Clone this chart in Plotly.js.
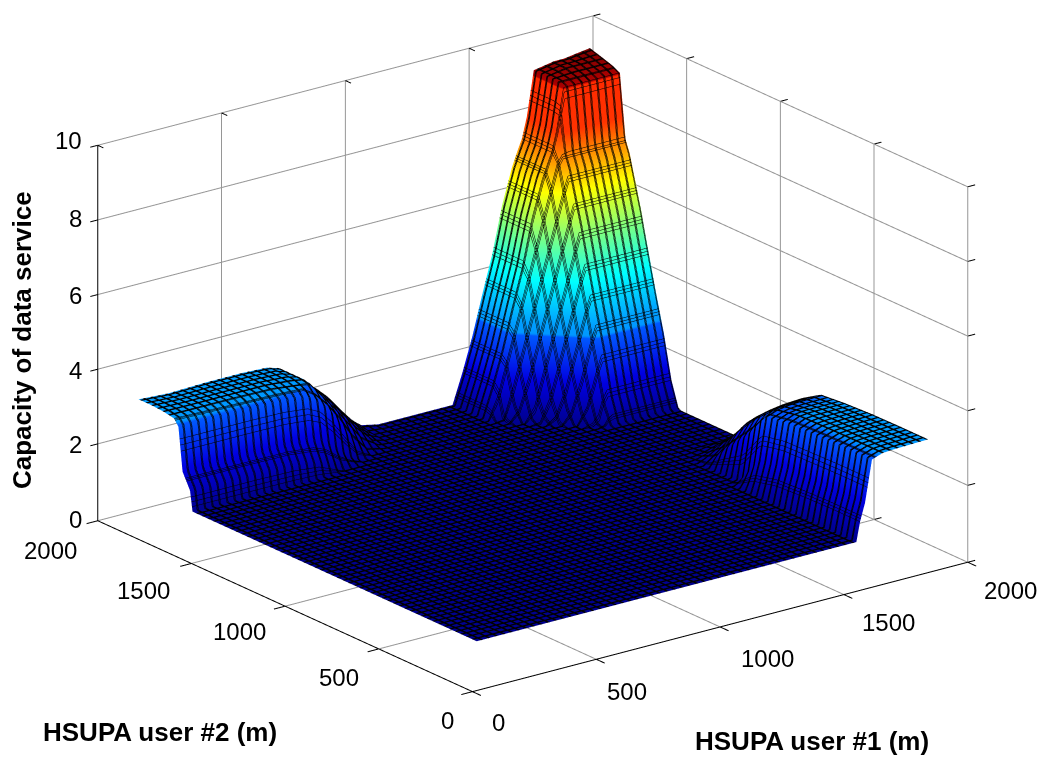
<!DOCTYPE html>
<html>
<head>
<meta charset="utf-8">
<script src="https://cdn.plot.ly/plotly-3.0.1.min.js"></script>
<style>html,body{margin:0;padding:0;background:#fff}#chart{width:1049px;height:762px}</style>
</head>
<body>
<div id="chart"></div>
<script>
// metres
const user1Distance = [282,400,550,700,800,850,900,950,1000,1060,1130,1180,1250,1400,1550,1590,1630,1670,1710,1750,1790,1815,1830,1850,1878,1920,1960,2000,2050,2105];
const user2Distance = [350,500,650,800,920,1020,1130,1200,1290,1362,1500,1680,1720,1760,1800,1840,1867,1880,1920,1942,1965,1995,2030,2090,2155];
// capacity of data service; one row per user2Distance, one column per user1Distance
const capacity = [
[0,0,0,0,0,0,0,0,0,0,0,0,0,0,0,0,0,0,0,0,0,0,.52,.99,2.1,2.2,2.22,2.23,2.24,2.25],
[0,0,0,0,0,0,0,0,0,0,0,0,0,0,0,0,0,0,0,0,0,0,.52,.99,2.1,2.2,2.22,2.23,2.24,2.25],
[0,0,0,0,0,0,0,0,0,0,0,0,0,0,0,0,0,0,0,0,0,0,.5,.97,2.08,2.19,2.21,2.22,2.23,2.24],
[0,0,0,0,0,0,0,0,0,0,0,0,0,0,0,0,0,0,0,0,0,0,.45,.95,2.05,2.17,2.2,2.2,2.2,2.2],
[0,0,0,0,0,0,0,0,0,0,0,0,0,0,0,0,0,0,0,0,0,0,.3,.8,1.95,2.05,2.1,2.12,2.13,2.14],
[0,0,0,0,0,0,0,0,0,0,0,0,0,0,0,0,0,0,0,0,0,0,0,.05,1.2,1.6,1.72,1.76,1.8,1.82],
[0,0,0,0,0,0,0,0,0,0,0,0,0,0,0,0,0,0,0,0,0,0,0,0,.6,.95,1.15,1.25,1.33,1.39],
[0,0,0,0,0,0,0,0,0,0,0,0,0,0,0,0,0,0,0,0,0,0,0,0,.15,.4,.65,.8,.95,1.02],
[0,0,0,0,0,0,0,0,0,0,0,0,0,0,0,0,0,0,0,0,0,0,0,0,0,.05,.15,.25,.4,.54],
[0,0,0,0,0,0,0,0,0,0,0,0,0,0,0,0,0,0,0,0,0,0,0,0,0,0,0,0,0,0],
[0,0,0,0,0,0,0,0,0,0,0,0,0,0,0,0,0,0,0,0,0,0,0,0,0,0,0,0,0,0],
[0,0,0,0,0,0,0,0,0,0,0,0,0,0,0,0,0,0,0,0,0,0,0,0,0,0,0,0,0,0],
[0,0,0,0,0,0,0,0,0,0,0,0,0,0,0,0,0,0,0,0,0,.12,.48,.7,.7,.7,.7,.7,.7,.7],
[0,0,0,0,0,0,0,0,0,0,0,0,0,0,0,0,0,0,0,0,.48,1.09,1.45,1.85,1.85,1.85,1.85,1.85,1.85,1.85],
[0,0,0,0,0,0,0,0,0,0,0,0,0,0,0,0,0,0,0,.48,1.45,2.06,2.42,2.8,2.8,2.8,2.8,2.8,2.8,2.8],
[0,0,0,0,0,0,0,0,0,0,0,0,0,0,0,0,0,0,.48,1.45,2.42,3.03,3.39,3.8,3.8,3.8,3.8,3.8,3.8,3.8],
[0,0,0,0,0,0,0,0,0,0,0,0,0,0,0,0,0,.17,1.14,2.1,3.07,3.68,4.04,4.5,4.5,4.5,4.5,4.5,4.5,4.5],
[.53,.53,.53,.5,.4,.2,0,0,0,0,0,0,0,0,0,0,0,.48,1.45,2.42,3.39,3.99,4.36,4.84,4.85,4.85,4.85,4.85,4.85,4.85],
[.95,.95,.95,.95,.9,.8,.5,.2,0,0,0,0,0,0,0,0,.48,1.45,2.42,3.39,4.36,4.96,5.32,5.75,5.75,5.75,5.75,5.75,5.75,5.75],
[2.1,2.1,2.1,2.08,2,1.8,1.4,.85,.3,0,0,0,0,0,0,.05,1.02,1.98,2.95,3.92,4.89,5.49,5.86,6.25,6.25,6.25,6.25,6.25,6.25,6.25],
[2.27,2.25,2.22,2.2,2.17,1.95,1.6,1.15,.6,.12,0,0,0,0,0,.6,1.57,2.54,3.51,4.48,5.45,6.05,6.41,6.6,6.6,6.6,6.6,6.6,6.6,6.6],
[2.3,2.3,2.3,2.28,2.2,2.17,1.75,1.35,.9,.35,.03,0,0,0,0,.8,1.7,2.75,3.75,5,5.95,6.4,6.65,7.2,8.3,8.3,8.3,8.3,8.3,8.3],
[2.33,2.32,2.32,2.32,2.27,2.2,1.85,1.5,1.1,.6,.1,0,0,0,0,.8,1.7,2.75,3.75,5,5.95,6.4,6.65,7.2,8.4,8.4,8.4,8.4,8.4,8.4],
[2.35,2.32,2.33,2.33,2.3,2.2,1.9,1.62,1.3,.8,.25,.02,0,0,0,.8,1.7,2.75,3.75,5,5.95,6.4,6.65,7.2,8.4,8.45,8.5,8.5,8.5,8.5],
[2.35,2.3,2.33,2.33,2.3,2.2,1.9,1.65,1.39,.95,.38,.1,0,0,0,.8,1.7,2.75,3.75,5,5.95,6.4,6.65,7.2,8.4,8.45,8.5,8.5,8.55,8.6]
];
const xTicks = [0,500,1000,1500,2000];
const yTicks = [0,500,1000,1500,2000];
const zTicks = [0,2,4,6,8,10];
const colorMax = 8.6;
const colorLevels = [0,1,2.14,2.16,2.2,2.4,3.5,5.7,7.2,8.25,8.3,8.6];
const colorValues = ['#00008f','#0000e0','#0058ff','#0080ff','#0098ff','#009cff','#00ffff','#ffff00','#ff3300','#ff2a00','#b00000','#800000'];
const facetColors = colorLevels.map((v,i)=>[v/colorMax,colorValues[i]]);

const X=2000,Y=2000,Z=10,F=-0.06;
// Surface runs past the 2000 walls; in an orthographic view the walls can slide along the
// view direction without moving on screen, which keeps them behind the surface.
const P=[118,156,-.562];
const far=p=>[p[0]+P[0],p[1]+P[1],p[2]+P[2]];
const farSeg=s=>[far(s[0]),far(s[1])];
function lines(segs){const o={x:[],y:[],z:[]};segs.forEach(s=>{o.x.push(s[0][0],s[1][0],null);o.y.push(s[0][1],s[1][1],null);o.z.push(s[0][2],s[1][2],null);});return o;}
const greySegs=[], wallTicks=[], blackSegs=[];
xTicks.forEach(t=>{greySegs.push([[t,0,F],[t,Y,F]],[[t,Y,F],[t,Y,Z]]);
  blackSegs.push([[t,0,F],[t,-45,F]]);wallTicks.push([[t,Y,Z],[t,Y-30,Z]],[[t,Y,F],[t,Y-30,F]]);});
yTicks.forEach(t=>{greySegs.push([[0,t,F],[X,t,F]],[[X,t,F],[X,t,Z]]);
  blackSegs.push([[0,t,F],[-45,t,F]]);wallTicks.push([[X,t,Z],[X+30,t,Z]],[[X,t,F],[X+30,t,F]]);});
zTicks.forEach(t=>{const h=t===0?F:t;greySegs.push([[0,Y,h],[X,Y,h]],[[X,Y,h],[X,0,h]]);
  blackSegs.push([[0,Y,h],[-30,Y,h]]);wallTicks.push([[X,0,h],[X+30,0,h]]);});
blackSegs.push([[0,0,F],[X,0,F]],[[0,0,F],[0,Y,F]],[[0,Y,F],[0,Y,Z]]);
const lineTrace=(segs,color,width)=>Object.assign({type:'scatter3d',mode:'lines',line:{color,width},hoverinfo:'skip',showlegend:false,connectgaps:false},lines(segs));

const mesh = {show:true,color:'#000000',width:2,highlight:false,size:30};
const surface = offset=>({
  type:'surface', x:user1Distance, y:user2Distance, z:capacity,
  colorscale:facetColors, cmin:0, cmax:colorMax, showscale:false, hoverinfo:'skip',
  lighting:{ambient:1,diffuse:0,specular:0,roughness:1,fresnel:0},
  contours:{x:{...mesh,start:270+offset,end:2130},y:{...mesh,start:340+offset,end:2170}}
});
const font={family:'Liberation Sans, Arial, sans-serif',size:24,color:'#000000'};
const xShift=[[26,-31],[31,-32],[47,-32],[45,-28],[43,-28]], yShift=[[-25,-29],[-40,-29],[-46,-25],[-48,-27],[-47,-30]];
const zShift=[1,-1,-1,-1,1,5];
const sceneLabels=[
 ...xTicks.map((t,i)=>({x:t,y:0,z:F,text:String(t),showarrow:false,font,xshift:xShift[i][0],yshift:xShift[i][1]})),
 ...yTicks.map((t,i)=>({x:0,y:t,z:F,text:String(t),showarrow:false,font,xshift:yShift[i][0],yshift:yShift[i][1]})),
 ...zTicks.map((t,i)=>({x:0,y:Y,z:t===0?F:t,text:String(t),showarrow:false,font,xanchor:'right',xshift:-14,yshift:zShift[i]}))
];
const bold = (text,x,y,textangle,size)=>({text:'<b>'+text+'</b>',xref:'paper',yref:'paper',x,y,xanchor:'center',yanchor:'middle',showarrow:false,textangle:textangle||0,
  font:{family:'Liberation Sans, Arial, sans-serif',size:size,color:'#000000'}});
const hidden = range=>({range,visible:false});
const layout = {
  width:1049,height:762,margin:{l:0,r:0,t:0,b:0},paper_bgcolor:'#ffffff',showlegend:false,
  scene:{
    domain:{x:[0,1],y:[0,1]},
    aspectmode:'manual',aspectratio:{x:1.834,y:1.809,z:1.2003},
    camera:{projection:{type:'orthographic'},eye:{x:-1.709,y:-2.236,z:.934},up:{x:0,y:0,z:1},center:{x:-.0106,y:.008,z:-.101}},
    xaxis:hidden([-100,2150]), yaxis:hidden([-60,2160]), zaxis:hidden([-.7,10.8]),
    annotations:sceneLabels
  },
  annotations:[
    bold('HSUPA user #2 (m)',160/1049,1-732/762,0,26),
    bold('HSUPA user #1 (m)',812/1049,1-741/762,0,26),
    bold('Capacity of data service',22/1049,1-340/762,-90,26)
  ]
};
Plotly.newPlot('chart',[lineTrace(greySegs.map(farSeg),'#969696',2),lineTrace(wallTicks.map(farSeg),'#000000',2),lineTrace(blackSegs,'#000000',2),surface(0),surface(3),surface(6)],layout,{displayModeBar:false});
</script>
</body>
</html>
